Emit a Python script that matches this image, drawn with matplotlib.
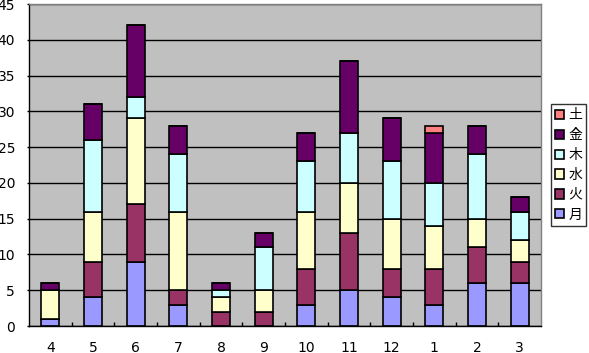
import numpy as np
import matplotlib
matplotlib.use("Agg")
import matplotlib.pyplot as plt

# ── DATA ──────────────────────────────────────────────────────────────────────

months = ["4", "5", "6", "7", "8", "9", "10", "11", "12", "1", "2", "3"]
series_names = ["月", "火", "水", "木", "金", "土"]

mon = [1, 4, 9, 3, 0, 0, 3, 5, 4, 3, 6, 6]
tue = [0, 5, 8, 2, 2, 2, 5, 8, 4, 5, 5, 3]
wed = [4, 7, 12, 11, 2, 3, 8, 7, 7, 6, 4, 3]
thu = [0, 10, 3, 8, 1, 6, 7, 7, 8, 6, 9, 4]
fri = [1, 5, 10, 4, 1, 2, 4, 10, 6, 7, 4, 2]
sat = [0, 0, 0, 0, 0, 0, 0, 0, 0, 1, 0, 0]

colors = ["#9999FF", "#993366", "#FFFFCC", "#CCFFFF", "#660066", "#FF8080"]

# ── PLOT ──────────────────────────────────────────────────────────────────────

fig = plt.figure(figsize=(5.89, 3.53), dpi=100)
ax = fig.add_axes([29 / 589, 1 - 326 / 353, 512 / 589, 322 / 353])
ax.set_facecolor("#C0C0C0")

x = np.arange(len(months))
bottom = np.zeros(len(months))
bars = []
for name, vals, color in zip(series_names, [mon, tue, wed, thu, fri, sat], colors):
    vals = np.array(vals, dtype=float)
    b = ax.bar(x, vals, width=0.42, bottom=bottom, color=color,
               edgecolor="black", linewidth=1.2, label=name, zorder=3)
    bars.append(b)
    bottom += vals

ax.set_xlim(-0.5, len(months) - 0.5)
ax.set_ylim(0, 45)
ax.set_yticks(range(0, 46, 5))
ax.yaxis.grid(True, color="black", linewidth=1.0, zorder=1)

ax.set_xticks(x)
ax.set_xticklabels(months, fontsize=10, family="DejaVu Sans")
ax.set_xticks(np.arange(0.5, len(months) - 0.5, 1), minor=True)
ax.tick_params(axis="x", which="major", length=0, pad=10.5)
ax.tick_params(axis="x", which="minor", direction="in", length=3, width=1)
ax.tick_params(axis="y", length=1.5, width=1, pad=8.5, labelsize=10)
for lbl in ax.get_yticklabels():
    lbl.set_family("DejaVu Sans")

ax.spines["left"].set_color("black")
ax.spines["bottom"].set_color("black")
ax.spines["top"].set_color("#808080")
ax.spines["right"].set_color("#808080")
for s in ax.spines.values():
    s.set_linewidth(1.0)
    s.set_zorder(4)

handles = bars[::-1]
leg = fig.legend(handles, series_names[::-1], loc="center left",
                 bbox_to_anchor=(551 / 589, 1 - 165 / 353),
                 prop={"family": ["Noto Sans CJK JP", "DejaVu Sans"], "size": 10},
                 frameon=True, fancybox=False, edgecolor="black",
                 handlelength=0.65, handleheight=0.65, handletextpad=0.3,
                 borderpad=0.3, labelspacing=0.42, borderaxespad=0)
leg.get_frame().set_linewidth(1.0)

fig.savefig("out.png", dpi=100)
